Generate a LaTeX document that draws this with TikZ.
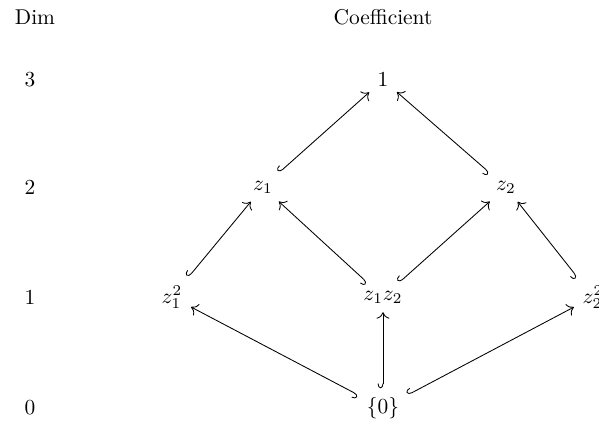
\documentclass[tikz,border=0pt]{standalone}
\usetikzlibrary{arrows.meta}
\tikzset{
  lbl/.style={inner sep=3pt},
  inc/.style={{Hooks[right,length=2.2pt,width=5pt]}-{To[length=3pt,width=6pt]}, line width=0.4pt, shorten <=1pt, shorten >=1pt}
}
\begin{document}
\begin{tikzpicture}[x=0.467pt,y=-0.467pt]
\useasboundingbox (0,0) rectangle (599,423);
\node[lbl] (dim) at (35,17) {Dim};
\node[lbl] (coef) at (383,17) {Coefficient};
\node[lbl] (d3) at (30,80) {3};
\node[lbl] (d2) at (30,187) {2};
\node[lbl] (d1) at (30,297) {1};
\node[lbl] (d0) at (30,408) {0};
\node[lbl] (one) at (383,80) {$1$};
\node[lbl] (z1) at (263,187) {$z_1$};
\node[lbl] (z2) at (506,187) {$z_2$};
\node[lbl] (z11) at (172,297) {$z_1^2$};
\node[lbl] (z12) at (383,297) {$z_1z_2$};
\node[lbl] (z22) at (593,297) {$z_2^2$};
\node[lbl] (zero) at (383,408) {$\{0\}$};
\draw[inc] (z1) -- (one);
\draw[inc] (z2) -- (one);
\draw[inc] (z11) -- (z1);
\draw[inc] (z12) -- (z1);
\draw[inc] (z12) -- (z2);
\draw[inc] (z22) -- (z2);
\draw[inc] (zero) -- (z11);
\draw[inc] (zero) -- (z12);
\draw[inc] (zero) -- (z22);
\end{tikzpicture}
\end{document}
